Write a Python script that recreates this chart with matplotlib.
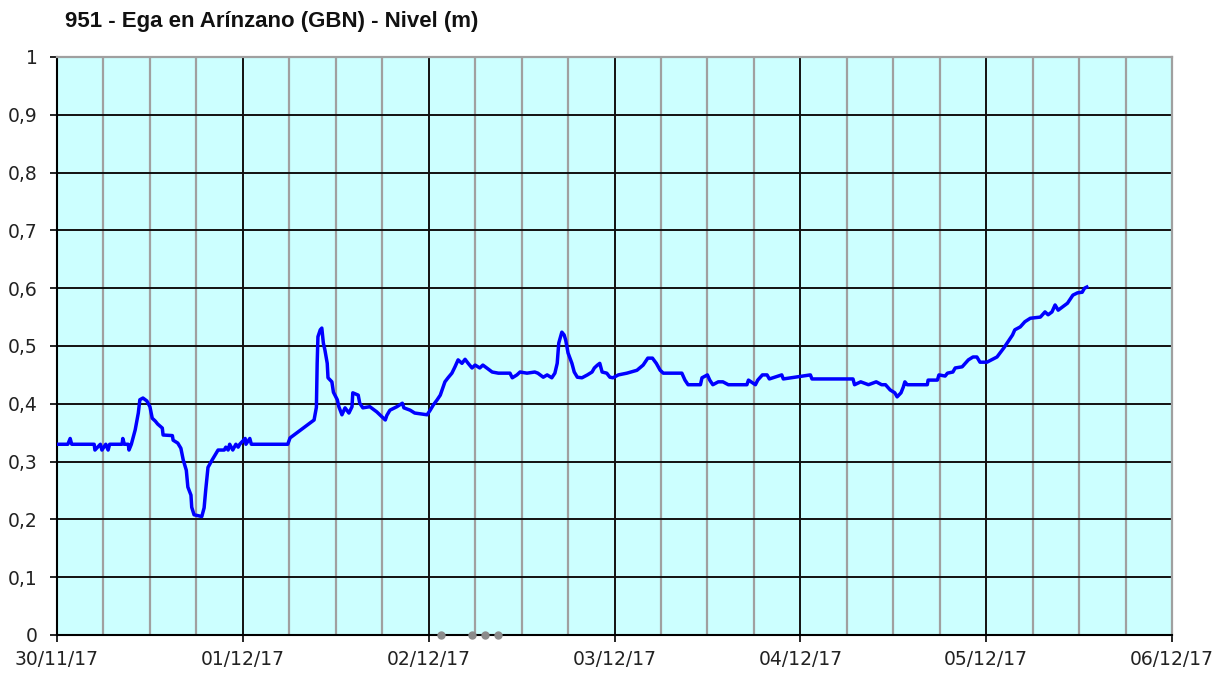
# -*- coding: utf-8 -*-

import datetime as dt
import matplotlib
matplotlib.use('Agg')
import matplotlib.pyplot as plt
import matplotlib.dates as mdates
from matplotlib.ticker import FuncFormatter, MultipleLocator

# Data: hours since 30/11/17 00:00, level in m
hours = [0.0, 1.4, 1.7, 1.9, 4.8, 4.9, 5.6, 5.8, 6.3, 6.6, 6.8, 8.4, 8.5, 8.7,
         9.2, 9.3, 9.6, 9.8, 10.1, 10.5, 10.7, 11.1, 11.6, 12.0, 12.3, 12.7,
         13.0, 13.6, 13.7, 14.9, 15.0, 15.6, 16.0, 16.3, 16.7, 16.9, 17.3,
         17.4, 17.7, 18.7, 19.0, 19.2, 19.5, 20.0, 20.4, 20.8, 21.6, 21.8,
         22.1, 22.3, 22.7, 23.1, 23.4, 23.6, 24.3, 24.4, 24.9, 25.1, 29.8,
         30.1, 31.0, 31.8, 32.7, 33.2, 33.5, 33.6, 33.7, 34.0, 34.2, 34.4,
         34.6, 34.9, 35.0, 35.5, 35.7, 36.2, 36.4, 36.8, 37.2, 37.7, 38.1,
         38.2, 38.9, 39.1, 39.5, 40.4, 41.3, 42.0, 42.4, 42.6, 43.0, 43.9,
         44.6, 44.8, 45.6, 46.2, 47.8, 48.2, 48.6, 49.1, 49.5, 50.1, 50.5,
         51.0, 51.4, 51.8, 52.3, 52.7, 53.1, 53.6, 54.0, 54.6, 55.0, 55.5,
         56.2, 57.0, 58.5, 58.8, 59.4, 59.8, 60.7, 61.7, 62.1, 62.8, 63.3,
         63.9, 64.3, 64.6, 64.8, 65.2, 65.5, 65.7, 66.0, 66.5, 66.8, 67.2,
         67.8, 68.5, 69.1, 69.4, 69.8, 70.1, 70.4, 71.0, 71.4, 71.8, 72.5,
         73.6, 74.9, 75.7, 76.3, 76.9, 77.4, 77.9, 78.3, 80.7, 81.1, 81.5,
         83.1, 83.3, 84.0, 84.3, 84.7, 85.4, 86.0, 86.7, 89.1, 89.3, 90.2,
         90.5, 91.1, 91.7, 92.0, 93.6, 93.8, 97.3, 97.5, 102.8, 103.0, 103.8,
         104.8, 105.8, 106.5, 107.0, 107.6, 108.2, 108.5, 109.0, 109.3, 109.5,
         109.8, 112.4, 112.5, 113.7, 113.9, 114.7, 115.0, 115.7, 116.0, 116.9,
         117.3, 117.7, 118.3, 118.8, 119.2, 120.1, 121.4, 121.8, 122.3, 122.8,
         123.4, 123.7, 124.4, 125.0, 125.7, 127.0, 127.6, 128.0, 128.5, 128.9,
         129.3, 129.8, 130.5, 130.8, 131.2, 131.8, 132.4, 132.7, 133.0]

nivel = [0.33, 0.33, 0.34, 0.33, 0.33, 0.32, 0.33, 0.32, 0.33, 0.32, 0.33, 0.33,
         0.34, 0.33, 0.33, 0.32, 0.33, 0.34, 0.355, 0.384, 0.407, 0.41, 0.405,
         0.395, 0.375, 0.37, 0.365, 0.358, 0.346, 0.345, 0.337, 0.332, 0.323,
         0.303, 0.285, 0.256, 0.242, 0.221, 0.208, 0.205, 0.22, 0.25, 0.29,
         0.302, 0.311, 0.32, 0.32, 0.325, 0.32, 0.33, 0.32, 0.33, 0.325, 0.33,
         0.34, 0.33, 0.34, 0.33, 0.33, 0.341, 0.35, 0.358, 0.367, 0.372, 0.394,
         0.47, 0.516, 0.528, 0.531, 0.505, 0.493, 0.47, 0.445, 0.438, 0.42,
         0.407, 0.395, 0.381, 0.393, 0.384, 0.395, 0.419, 0.415, 0.401, 0.393,
         0.395, 0.386, 0.377, 0.372, 0.38, 0.389, 0.395, 0.401, 0.393, 0.389,
         0.384, 0.381, 0.389, 0.398, 0.407, 0.415, 0.438, 0.445, 0.453, 0.464,
         0.476, 0.47, 0.477, 0.47, 0.462, 0.467, 0.462, 0.467, 0.462, 0.455,
         0.453, 0.453, 0.445, 0.45, 0.455, 0.453, 0.455, 0.453, 0.446, 0.45,
         0.445, 0.453, 0.47, 0.505, 0.524, 0.519, 0.51, 0.488, 0.47, 0.455,
         0.446, 0.445, 0.45, 0.455, 0.462, 0.467, 0.47, 0.455, 0.453, 0.446,
         0.445, 0.45, 0.453, 0.458, 0.467, 0.479, 0.479, 0.47, 0.458, 0.453,
         0.453, 0.441, 0.433, 0.433, 0.445, 0.45, 0.441, 0.433, 0.438, 0.438,
         0.433, 0.433, 0.441, 0.433, 0.441, 0.45, 0.45, 0.443, 0.45, 0.443,
         0.45, 0.443, 0.443, 0.433, 0.438, 0.433, 0.438, 0.433, 0.433, 0.424,
         0.419, 0.412, 0.419, 0.429, 0.438, 0.433, 0.433, 0.441, 0.441, 0.45,
         0.448, 0.453, 0.455, 0.462, 0.464, 0.47, 0.476, 0.481, 0.481, 0.472,
         0.472, 0.481, 0.488, 0.497, 0.507, 0.519, 0.528, 0.533, 0.542, 0.548,
         0.55, 0.559, 0.554, 0.559, 0.571, 0.562, 0.567, 0.574, 0.58, 0.588,
         0.592, 0.593, 0.6, 0.602]

# missing data markers (grey dots on the x axis)
missing_hours = [49.6, 53.6, 55.3, 57.0]

title = '951 - Ega en Arínzano (GBN) - Nivel (m)'

start = dt.datetime(2017, 11, 30)
end = dt.datetime(2017, 12, 6)
times = [start + dt.timedelta(hours=h) for h in hours]
missing_times = [start + dt.timedelta(hours=h) for h in missing_hours]

fig = plt.figure(figsize=(12.32, 6.75), dpi=100)
ax = fig.add_axes([57 / 1232, 40 / 675, 1115 / 1232, 578 / 675])
ax.set_facecolor('#CCFFFF')

ax.plot(times, nivel, color='#0000FF', linewidth=2.5, zorder=3)
ax.plot(missing_times, [0] * len(missing_times), 'o', color='#8C8C8C',
        markersize=5, clip_on=False, zorder=4)

ax.set_xlim(start, end)
ax.set_ylim(0, 1)

# axes ticks
ax.xaxis.set_major_locator(mdates.DayLocator())
ax.xaxis.set_major_formatter(mdates.DateFormatter('%d/%m/%y'))
ax.xaxis.set_minor_locator(mdates.HourLocator(byhour=[6, 12, 18]))
ax.yaxis.set_major_locator(MultipleLocator(0.1))
ax.yaxis.set_major_formatter(FuncFormatter(
    lambda v, p: ('%g' % round(v, 1)).replace('.', ',')))

ax.tick_params(axis='both', which='major', direction='out', length=5,
               width=1.2, color='black', labelsize=13.5, labelcolor='#222222',
               pad=6)
ax.tick_params(axis='x', which='minor', length=0)
ax.tick_params(axis='y', pad=9)

# grid
ax.set_axisbelow(True)
ax.grid(True, axis='y', which='major', color='#111111', linewidth=1.4)
ax.grid(True, axis='x', which='major', color='#111111', linewidth=1.4)
ax.grid(True, axis='x', which='minor', color='#A0A0A0', linewidth=1.6)

for side in ['left', 'bottom']:
    ax.spines[side].set_color('black')
    ax.spines[side].set_linewidth(1.5)
for side in ['top', 'right']:
    ax.spines[side].set_color('#A0A0A0')
    ax.spines[side].set_linewidth(1.6)

fig.text(65 / 1232, 1 - 21 / 675, title, fontsize=16, fontweight='bold',
         family='Liberation Sans', color='#111111', va='center', ha='left')

plt.savefig('out.png', dpi=100)
plt.close(fig)
